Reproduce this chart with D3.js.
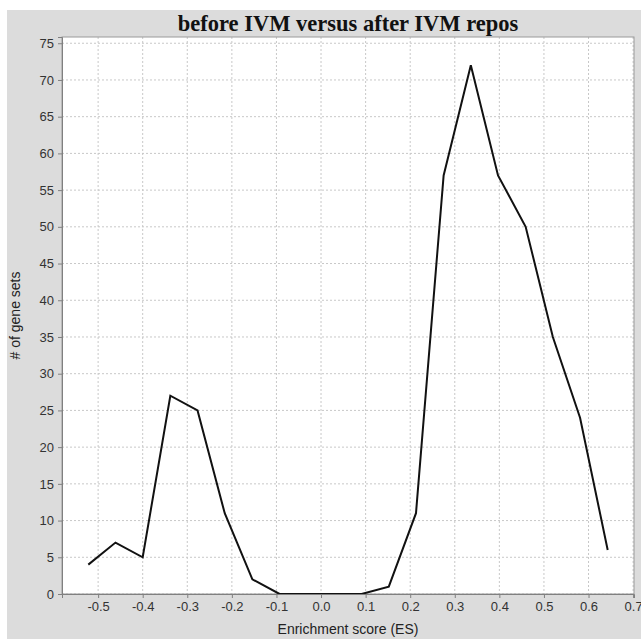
<!DOCTYPE html>
<html>
<head>
<meta charset="utf-8">
<script src="https://cdn.jsdelivr.net/npm/d3@7"></script>
<style>
  body { margin: 0; background: #fff; }
  svg { display: block; }
</style>
</head>
<body>
<div id="chart"></div>
<script>
// enrichment score bin centres and gene set counts
var esCenters = [-0.522, -0.461, -0.400, -0.338, -0.277, -0.216, -0.154, -0.093, -0.032, 0.030,
                 0.091, 0.152, 0.213, 0.275, 0.336, 0.397, 0.459, 0.520, 0.581, 0.643];
var geneSetCounts = [4, 7, 5, 27, 25, 11, 2, 0, 0, 0,
                     0, 1, 11, 57, 72, 57, 50, 35, 24, 6];

var xTicks = [-0.5, -0.4, -0.3, -0.2, -0.1, 0.0, 0.1, 0.2, 0.3, 0.4, 0.5, 0.6, 0.7];
var xTickLabels = ["-0.5", "-0.4", "-0.3", "-0.2", "-0.1", "0.0", "0.1", "0.2", "0.3", "0.4", "0.5", "0.6", "0.7"];
var yTicks = [0, 5, 10, 15, 20, 25, 30, 35, 40, 45, 50, 55, 60, 65, 70, 75];

var title = "before IVM versus after IVM repos";
var xLabel = "Enrichment score (ES)";
var yLabel = "# of gene sets";

var W = 641, H = 639;
var margin = {top: 37, right: 7, bottom: 45, left: 62};
var width = W - margin.left - margin.right,
    height = H - margin.top - margin.bottom;

var svg = d3.select("#chart").append("svg")
    .attr("width", W)
    .attr("height", H);

// grey chart panel
svg.append("rect")
    .attr("x", 7).attr("y", 10)
    .attr("width", W - 7).attr("height", H - 10)
    .attr("fill", "#dcdcdc");

var x = d3.scaleLinear().domain([-0.581, 0.702]).range([0, width]);
var y = d3.scaleLinear().domain([0, 75.85]).range([height, 0]);

var g = svg.append("g").attr("transform", "translate(" + margin.left + "," + margin.top + ")");

g.append("rect")
    .attr("width", width).attr("height", height)
    .attr("fill", "#fff");

// dashed grid
g.append("g").selectAll("line.vg")
    .data(xTicks)
  .enter().append("line")
    .attr("x1", function(d) { return x(d); })
    .attr("x2", function(d) { return x(d); })
    .attr("y1", 0).attr("y2", height)
    .attr("stroke", "#c8c8c8")
    .attr("stroke-width", 1)
    .attr("stroke-dasharray", "2,2");

g.append("g").selectAll("line.hg")
    .data(yTicks)
  .enter().append("line")
    .attr("y1", function(d) { return y(d); })
    .attr("y2", function(d) { return y(d); })
    .attr("x1", 0).attr("x2", width)
    .attr("stroke", "#c8c8c8")
    .attr("stroke-width", 1)
    .attr("stroke-dasharray", "2,2");

// plot outline
g.append("rect")
    .attr("width", width).attr("height", height)
    .attr("fill", "none")
    .attr("stroke", "#9a9a9a")
    .attr("stroke-width", 1);

var line = d3.line()
    .x(function(d, i) { return x(esCenters[i]); })
    .y(function(d) { return y(d); });

g.append("path")
    .datum(geneSetCounts)
    .attr("d", line)
    .attr("fill", "none")
    .attr("stroke", "#111")
    .attr("stroke-width", 2)
    .attr("stroke-linejoin", "miter");

var xAxis = g.append("g")
    .attr("class", "axis")
    .attr("transform", "translate(0," + height + ")")
    .call(d3.axisBottom(x).tickValues(xTicks).tickSize(4).tickPadding(4)
      .tickFormat(function(d, i) { return xTickLabels[i]; }));

var yAxis = g.append("g")
    .attr("class", "axis")
    .call(d3.axisLeft(y).tickValues(yTicks).tickSize(4).tickPadding(4));

[xAxis, yAxis].forEach(function(a) {
  a.select(".domain").attr("stroke", "#808080");
  a.selectAll(".tick line").attr("stroke", "#808080");
  a.selectAll(".tick text")
    .attr("fill", "#333")
    .style("font-family", "'Liberation Sans', Arial, sans-serif")
    .style("font-size", "13px");
});

svg.append("text")
    .attr("x", margin.left + width / 2)
    .attr("y", 31)
    .attr("text-anchor", "middle")
    .style("font-family", "'Liberation Serif', 'Times New Roman', serif")
    .style("font-weight", "bold")
    .style("font-size", "22.5px")
    .attr("fill", "#111")
    .text(title);

svg.append("text")
    .attr("x", margin.left + width / 2)
    .attr("y", 634)
    .attr("text-anchor", "middle")
    .style("font-family", "'Liberation Sans', Arial, sans-serif")
    .style("font-size", "14px")
    .attr("fill", "#222")
    .text(xLabel);

svg.append("text")
    .attr("transform", "translate(20," + (margin.top + height / 2) + ") rotate(-90)")
    .attr("text-anchor", "middle")
    .style("font-family", "'Liberation Sans', Arial, sans-serif")
    .style("font-size", "14px")
    .attr("fill", "#222")
    .text(yLabel);
</script>
</body>
</html>
